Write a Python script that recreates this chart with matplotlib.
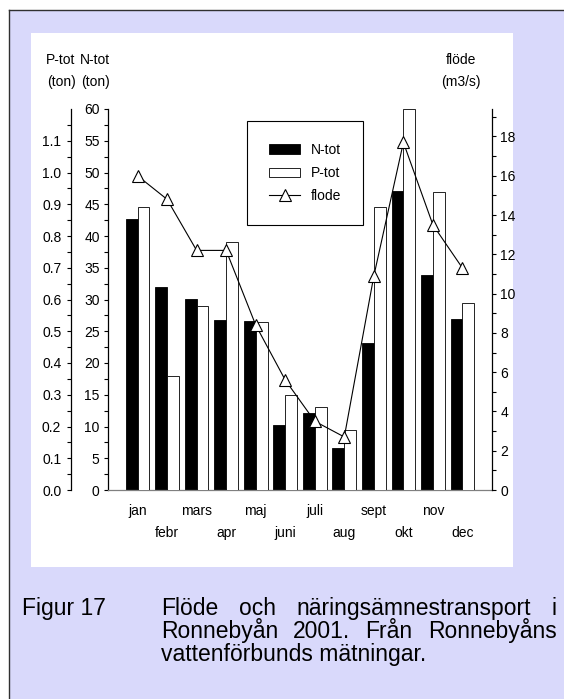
import matplotlib
matplotlib.use("Agg")
import matplotlib.pyplot as plt
import numpy as np
from matplotlib.patches import Rectangle, Patch
from matplotlib.lines import Line2D
from matplotlib.ticker import MultipleLocator, FixedLocator, FormatStrFormatter

plt.rcParams["font.family"] = ["Liberation Sans", "DejaVu Sans"]

# Monthly data, Ronnebyån 2001
months = ["jan", "febr", "mars", "apr", "maj", "juni",
          "juli", "aug", "sept", "okt", "nov", "dec"]
n_tot = [42.6, 32.0, 30.1, 26.7, 26.6, 10.2, 12.1, 6.6, 23.1, 47.1, 33.8, 27.0]   # ton
p_tot = [0.89, 0.36, 0.58, 0.78, 0.53, 0.30, 0.26, 0.19, 0.89, 1.20, 0.94, 0.59]  # ton
flode = [16.0, 14.8, 12.2, 12.2, 8.4, 5.6, 3.5, 2.7, 10.9, 17.7, 13.5, 11.3]     # m3/s

caption_label = "Figur 17"
caption_lines = ["Flöde och näringsämnestransport i",
                 "Ronnebyån 2001. Från Ronnebyåns",
                 "vattenförbunds mätningar."]

W, H = 564, 699
fig = plt.figure(figsize=(W / 100, H / 100), dpi=100, facecolor="white")


def fx(px):
    return px / W


def fy(py):
    return 1 - py / H


# page background: lavender panel with dark left/top border, white chart card
lav = "#d9d9fb"
fig.patches.append(Rectangle((fx(9), 0), 1 - fx(9), fy(10), transform=fig.transFigure,
                             facecolor=lav, edgecolor="none", zorder=-10))
fig.lines.append(Line2D([fx(9), 1], [fy(10), fy(10)], transform=fig.transFigure,
                        color="#303030", lw=1.0, zorder=-5))
fig.lines.append(Line2D([fx(9), fx(9)], [0, fy(10)], transform=fig.transFigure,
                        color="#303030", lw=1.0, zorder=-5))
fig.patches.append(Rectangle((fx(31), fy(567)), fx(513) - fx(31), fy(33) - fy(567),
                             transform=fig.transFigure, facecolor="white",
                             edgecolor="none", zorder=-9))

left, right, top, bottom = 108, 492, 109, 490
ax = fig.add_axes([fx(left), fy(bottom), fx(right) - fx(left), fy(top) - fy(bottom)])
ax.patch.set_visible(False)
ax_p = ax.twinx()
ax_f = ax.twinx()

x = np.arange(1, len(months) + 1)
bw = 0.4
fs = 10

# N-tot bars on the main (inner left) axis
ax.bar(x - bw / 2, n_tot, width=bw, color="black", edgecolor="black", linewidth=0.6)
ax.set_xlim(0, 13)
ax.set_ylim(0, 60)
ax.yaxis.set_major_locator(MultipleLocator(5))
ax.yaxis.set_minor_locator(MultipleLocator(2.5))
ax.tick_params(axis="y", which="both", direction="out", length=3, width=0.8,
               labelsize=fs, pad=3)
for s in ["top", "right"]:
    ax.spines[s].set_visible(False)
ax.spines["left"].set_linewidth(0.9)
ax.spines["bottom"].set_color("#808080")
ax.spines["bottom"].set_linewidth(0.9)

# month labels in two staggered rows
ax.set_xticks(x[::2], labels=months[::2])
ax.set_xticks(x[1::2], labels=months[1::2], minor=True)
ax.tick_params(axis="x", which="both", length=0, labelsize=fs)
ax.tick_params(axis="x", which="major", pad=9.8)
ax.tick_params(axis="x", which="minor", pad=26)

# P-tot bars on an outer left axis
ax_p.bar(x + bw / 2, p_tot, width=bw, color="white", edgecolor="black", linewidth=0.6)
ax_p.set_ylim(0, 1.2)
ax_p.yaxis.set_label_position("left")
ax_p.yaxis.set_ticks_position("left")
ax_p.spines["left"].set_position(("outward", 37 * 72 / 100))
ax_p.spines["left"].set_linewidth(0.9)
for s in ["top", "right", "bottom"]:
    ax_p.spines[s].set_visible(False)
ax_p.yaxis.set_major_locator(FixedLocator(np.round(np.arange(0, 1.15, 0.1), 2)))
ax_p.yaxis.set_minor_locator(FixedLocator(np.round(np.arange(0.05, 1.2, 0.1), 2)))
ax_p.yaxis.set_major_formatter(FormatStrFormatter("%.1f"))
ax_p.tick_params(axis="y", which="both", direction="out", length=3, width=0.8,
                 labelsize=fs, pad=4)

# flow line on the right axis
ax_f.plot(x, flode, color="black", lw=0.8, marker="^", markersize=9,
          markerfacecolor="white", markeredgecolor="black", markeredgewidth=0.8)
ax_f.set_ylim(0, 19.4)
ax_f.yaxis.set_major_locator(MultipleLocator(2))
ax_f.yaxis.set_minor_locator(MultipleLocator(1))
ax_f.tick_params(axis="y", which="both", direction="out", length=3, width=0.8,
                 labelsize=fs, pad=3)
for s in ["top", "left", "bottom"]:
    ax_f.spines[s].set_visible(False)
ax_f.spines["right"].set_linewidth(0.9)

# axis headers
for cx, lines in [(61, ("P-tot", "(ton)")), (95, ("N-tot", "(ton)")),
                  (461, ("flöde", "(m3/s)"))]:
    fig.text(fx(cx), fy(60), lines[0], ha="center", va="center", fontsize=fs)
    fig.text(fx(cx), fy(82), lines[1], ha="center", va="center", fontsize=fs)

# legend
handles = [Patch(facecolor="black", edgecolor="black", linewidth=0.6),
           Patch(facecolor="white", edgecolor="black", linewidth=0.6),
           Line2D([], [], color="black", lw=0.8, marker="^", markersize=9,
                  markerfacecolor="white", markeredgecolor="black", markeredgewidth=0.8)]
leg = ax_f.legend(handles, ["N-tot", "P-tot", "flode"], loc="upper left",
                  bbox_to_anchor=(fx(247), fy(121)), bbox_transform=fig.transFigure,
                  fontsize=fs, frameon=True, fancybox=False, framealpha=1,
                  edgecolor="black", borderpad=1.6, handlelength=2.2,
                  handletextpad=0.8, labelspacing=0.65, borderaxespad=0)
leg.get_frame().set_linewidth(0.8)

# caption, justified like the source document
cfs = 16.5
fig.text(fx(22), fy(615), caption_label, fontsize=cfs, va="baseline", ha="left")
renderer = fig.canvas.get_renderer()
x0, x1 = 161, 556.5
baselines = [615, 638, 661]
for i, line in enumerate(caption_lines):
    words = line.split(" ")
    if i == len(caption_lines) - 1:
        fig.text(fx(x0), fy(baselines[i]), line, fontsize=cfs, va="baseline", ha="left")
        continue
    widths = []
    for w in words:
        t = fig.text(0, 0, w, fontsize=cfs)
        widths.append(t.get_window_extent(renderer).width)
        t.remove()
    gap = (x1 - x0 - sum(widths)) / (len(words) - 1)
    pos = x0
    for w, wd in zip(words, widths):
        fig.text(fx(pos), fy(baselines[i]), w, fontsize=cfs, va="baseline", ha="left")
        pos += wd + gap

fig.savefig("out.png", dpi=100, facecolor="white")
